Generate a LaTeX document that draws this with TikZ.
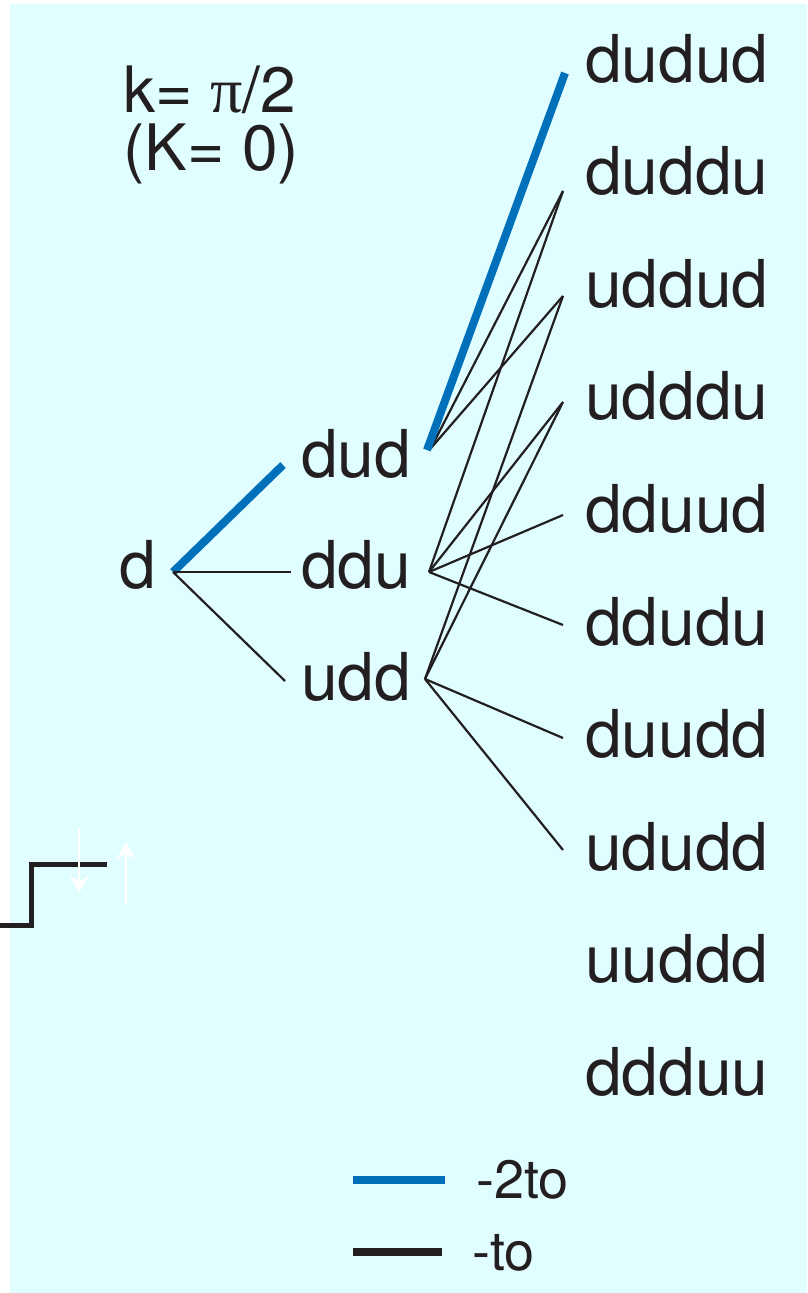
\documentclass[tikz,border=0pt]{standalone}
\usepackage{fontspec}
\setmainfont{TeX Gyre Heros}
\newfontfamily\greekfont{Liberation Serif}
\usetikzlibrary{arrows.meta}
\definecolor{bgcyan}{RGB}{224,253,255}
\definecolor{lineblue}{RGB}{0,112,186}
\definecolor{inkblack}{RGB}{35,31,32}

\begin{document}
\begin{tikzpicture}[x=1pt,y=-1pt,
  lbl/.style={anchor=base west, inner sep=0pt, text=inkblack,
              font=\fontsize{66}{66}\selectfont},
  titletext/.style={anchor=base west, inner sep=0pt, text=inkblack,
              font=\fontsize{64}{64}\selectfont},
  legtext/.style={anchor=base west, inner sep=0pt, text=inkblack,
              font=\fontsize{54}{54}\selectfont},
  link/.style={draw=inkblack, line width=2.2pt},
  strong/.style={draw=lineblue, line width=8pt},
  spinarrow/.style={draw=white, line width=1.2pt,
              -{Stealth[length=17pt,width=19pt,inset=5pt]}}]

\useasboundingbox (0,0) rectangle (807,1293);
\fill[bgcyan] (10,4) rectangle (807,1293);

% heading
\node[titletext] (title1) at (123,112) {k= {\greekfont π}/2};
\node[titletext] (title2) at (123,170) {(K= 0)};

% configurations
\node[lbl] (d)   at (119,588) {d};
\node[lbl] (dud) at (301,477) {dud};
\node[lbl] (ddu) at (301,588) {ddu};
\node[lbl] (udd) at (301,700) {udd};

\foreach \name [count=\i from 0] in
  {dudud,duddu,uddud,udddu,dduud,ddudu,duudd,ududd,uuddd,ddduu}
  \node[lbl] (\name) at (585,{82+112.6*\i}) {\name};

% connection points
\coordinate (d-out)   at (173,572);
\coordinate (dud-in)  at (283,465);
\coordinate (ddu-in)  at (291,572);
\coordinate (udd-in)  at (285,681);
\coordinate (dud-out) at (427,450);
\coordinate (dud-o2)  at (431,448);
\coordinate (ddu-out) at (429,572);
\coordinate (udd-out) at (425,679);
\coordinate (dudud-in) at (565,73);
\coordinate (duddu-in) at (563,191);
\coordinate (uddud-in) at (563,296);
\coordinate (udddu-in) at (563,402);
\coordinate (dduud-in) at (563,515);
\coordinate (ddudu-in) at (563,625);
\coordinate (duudd-in) at (563,738);
\coordinate (ududd-in) at (563,850);

% first step
\draw[strong] (d-out) -- (dud-in);
\draw[link] (d-out) -- (ddu-in);
\draw[link] (d-out) -- (udd-in);

% second step
\draw[link] (dud-o2) -- (duddu-in);
\draw[link] (dud-o2) -- (uddud-in);
\draw[link] (ddu-out) -- (duddu-in);
\draw[link] (ddu-out) -- (udddu-in);
\draw[link] (ddu-out) -- (dduud-in);
\draw[link] (ddu-out) -- (ddudu-in);
\draw[link] (udd-out) -- (uddud-in);
\draw[link] (udd-out) -- (udddu-in);
\draw[link] (udd-out) -- (duudd-in);
\draw[link] (udd-out) -- (ududd-in);
\draw[strong] (dud-out) -- (dudud-in);

% step potential with spin arrows
\draw[draw=inkblack, line width=5pt, line join=miter]
  (0,925) -- (31,925) -- (31,864) -- (107,864);
\coordinate (down-top) at (79,828);
\coordinate (down-tip) at (79,893);
\coordinate (up-bot) at (126,905);
\coordinate (up-tip) at (126,842);
\draw[spinarrow] (down-top) -- (down-tip);
\draw[spinarrow] (up-bot) -- (up-tip);

% legend
\coordinate (leg1a) at (353,1180);
\coordinate (leg1b) at (445,1180);
\coordinate (leg2a) at (353,1252);
\coordinate (leg2b) at (442,1252);
\draw[draw=lineblue, line width=7.5pt] (leg1a) -- (leg1b);
\draw[draw=inkblack, line width=7.5pt] (leg2a) -- (leg2b);
\node[legtext] (leg1) at (476,1198) {-2to};
\node[legtext] (leg2) at (472,1270) {-to};
\end{tikzpicture}
\end{document}
